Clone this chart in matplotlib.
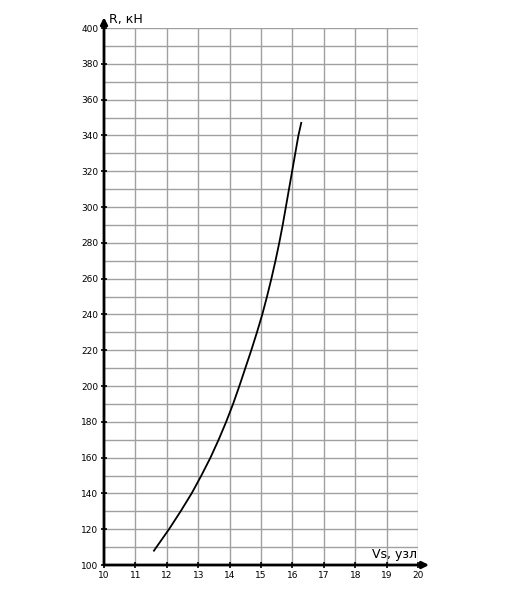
import matplotlib
matplotlib.use("Agg")
import matplotlib.pyplot as plt
import numpy as np

speed = [11.59, 12.07, 12.44, 12.79, 13.10, 13.39, 13.65, 13.89, 14.11, 14.31,
         14.50, 14.69, 14.87, 15.04, 15.19, 15.33, 15.46, 15.58, 15.69, 15.79,
         15.89, 15.99, 16.09, 16.19, 16.28]
resistance = [108, 120, 130, 140, 150, 160, 170, 180, 190, 200,
              210, 220, 230, 240, 250, 260, 270, 280, 290, 300,
              310, 320, 330, 340, 347]
x_ticks = list(range(10, 21))
y_ticks = list(range(100, 401, 20))

fig = plt.figure(figsize=(5.2, 5.92), dpi=100)
ax = fig.add_axes([0.2, 0.0456, 0.604, 0.9071])
ax.set_xlim(10, 20)
ax.set_ylim(100, 400)

for xv in np.arange(11, 21, 1):
    ax.axvline(xv, color="#a0a0a0", lw=1.0, zorder=1)
for yv in np.arange(110, 401, 10):
    ax.axhline(yv, color="#a0a0a0", lw=1.0, zorder=1)

ax.plot(speed, resistance, color="black", lw=1.3, zorder=3)

for s in ax.spines.values():
    s.set_visible(False)

ax.set_xticks(x_ticks)
ax.set_yticks(y_ticks)
ax.set_xticklabels([str(v) for v in x_ticks], fontsize=6.5)
ax.set_yticklabels([str(v) for v in y_ticks], fontsize=6.5)
ax.tick_params(axis="both", direction="inout", length=4, width=1.2, pad=2, colors="black")

# axis lines with arrows
ax.annotate("", xy=(20.35, 100), xytext=(10, 100), xycoords="data",
            arrowprops=dict(arrowstyle="-|>", lw=2, color="black", mutation_scale=10,
                            shrinkA=0, shrinkB=0), annotation_clip=False, zorder=5)
ax.annotate("", xy=(10, 406), xytext=(10, 100), xycoords="data",
            arrowprops=dict(arrowstyle="-|>", lw=2, color="black", mutation_scale=10,
                            shrinkA=0, shrinkB=0), annotation_clip=False, zorder=5)

ax.text(10.15, 401, "R, кН", fontsize=9, ha="left", va="bottom", clip_on=False)
ax.text(19.95, 102, "Vs, узл", fontsize=9, ha="right", va="bottom", clip_on=False)

fig.savefig("out.png", dpi=100, facecolor="white")
